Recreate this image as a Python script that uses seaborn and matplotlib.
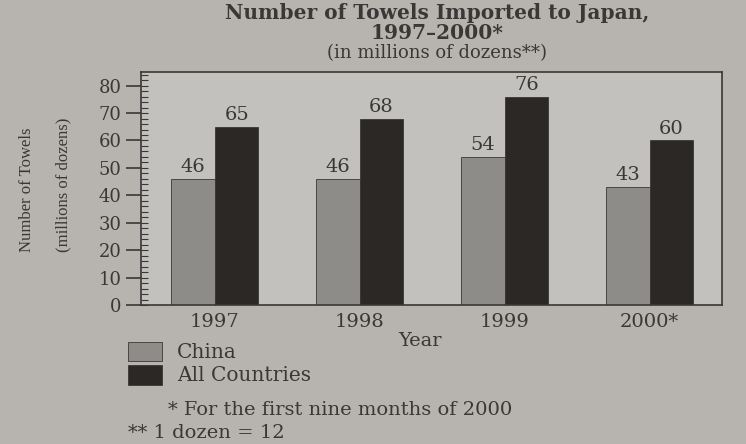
import matplotlib
matplotlib.use("Agg")
import matplotlib.pyplot as plt
import seaborn as sns
import pandas as pd
from matplotlib.ticker import MultipleLocator
from matplotlib.patches import Rectangle

years = ["1997", "1998", "1999", "2000*"]
china = [46, 46, 54, 43]
all_countries = [65, 68, 76, 60]
series_names = ["China", "All Countries"]
yticks = [0, 10, 20, 30, 40, 50, 60, 70, 80]

df = pd.DataFrame({
    "Year": years * 2,
    "Value": china + all_countries,
    "Series": [series_names[0]] * 4 + [series_names[1]] * 4,
})

sns.set_theme(style="white")
plt.rcParams["font.family"] = ["DejaVu Serif", "Liberation Serif"]

bg = "#b7b4af"
plot_bg = "#c3c1bd"
c_china = "#8e8c89"
c_all = "#2b2826"
ink = "#3a3836"

fig = plt.figure(figsize=(7.46, 4.44), dpi=100, facecolor=bg)
ax = fig.add_axes([0.189, 0.313, 0.779, 0.525])
ax.set_facecolor(plot_bg)

sns.barplot(data=df, x="Year", y="Value", hue="Series", order=years,
            hue_order=series_names, palette=[c_china, c_all], width=0.6,
            edgecolor=ink, linewidth=0.6, legend=False, ax=ax, saturation=1)

for cont in ax.containers:
    ax.bar_label(cont, labels=[f"{v:.0f}" for v in cont.datavalues],
                 padding=2, fontsize=14, color=ink)

ax.set_ylim(0, 85)
ax.set_xlim(-0.51, 3.50)
ax.set_yticks(yticks)
ax.yaxis.set_minor_locator(MultipleLocator(2))
ax.yaxis.remove_overlapping_locs = False
ax.tick_params(axis="y", which="major", direction="out", length=11, width=1.2,
               labelsize=13, colors=ink, left=True, pad=3)
ax.tick_params(axis="y", which="minor", direction="in", length=5, width=0.8,
               colors=ink, left=True)
ax.tick_params(axis="x", which="major", direction="in", length=5, width=1,
               labelsize=14, colors=ink, bottom=True, pad=6)
for s in ax.spines.values():
    s.set_color(ink)
    s.set_linewidth(1.2)

ax.set_xlabel("Year", fontsize=14, color=ink)
ax.xaxis.set_label_coords(0.48, -0.115)
ax.set_ylabel("Number of Towels\n(millions of dozens)", fontsize=12,
              color=ink, linespacing=2.7, family=["Liberation Serif"],
              multialignment="left")
ax.yaxis.set_label_coords(-0.12, 0.515)

fig.text(0.586, 1 - 13 / 444, "Number of Towels Imported to Japan,",
         ha="center", va="center", fontsize=14.5, fontweight="bold", color=ink)
fig.text(0.586, 1 - 33 / 444, "1997\u20132000*",
         ha="center", va="center", fontsize=14.5, fontweight="bold", color=ink)
fig.text(0.586, 1 - 53 / 444, "(in millions of dozens**)", ha="center",
         va="center", fontsize=13, color=ink)

# legend
for i, (name, col) in enumerate(zip(series_names, [c_china, c_all])):
    y = 0.207 - i * 0.053
    fig.patches.append(Rectangle((0.172, y - 0.021), 0.045, 0.044,
                                 transform=fig.transFigure, facecolor=col,
                                 edgecolor=ink, linewidth=0.6))
    fig.text(0.237, y, name, ha="left", va="center", fontsize=14.5, color=ink)

fig.text(0.225, 0.077, "* For the first nine months of 2000", ha="left",
         va="center", fontsize=14, color=ink)
fig.text(0.172, 0.025, "** 1 dozen = 12", ha="left", va="center",
         fontsize=14, color=ink)

fig.savefig("out.png", dpi=100, facecolor=bg)
